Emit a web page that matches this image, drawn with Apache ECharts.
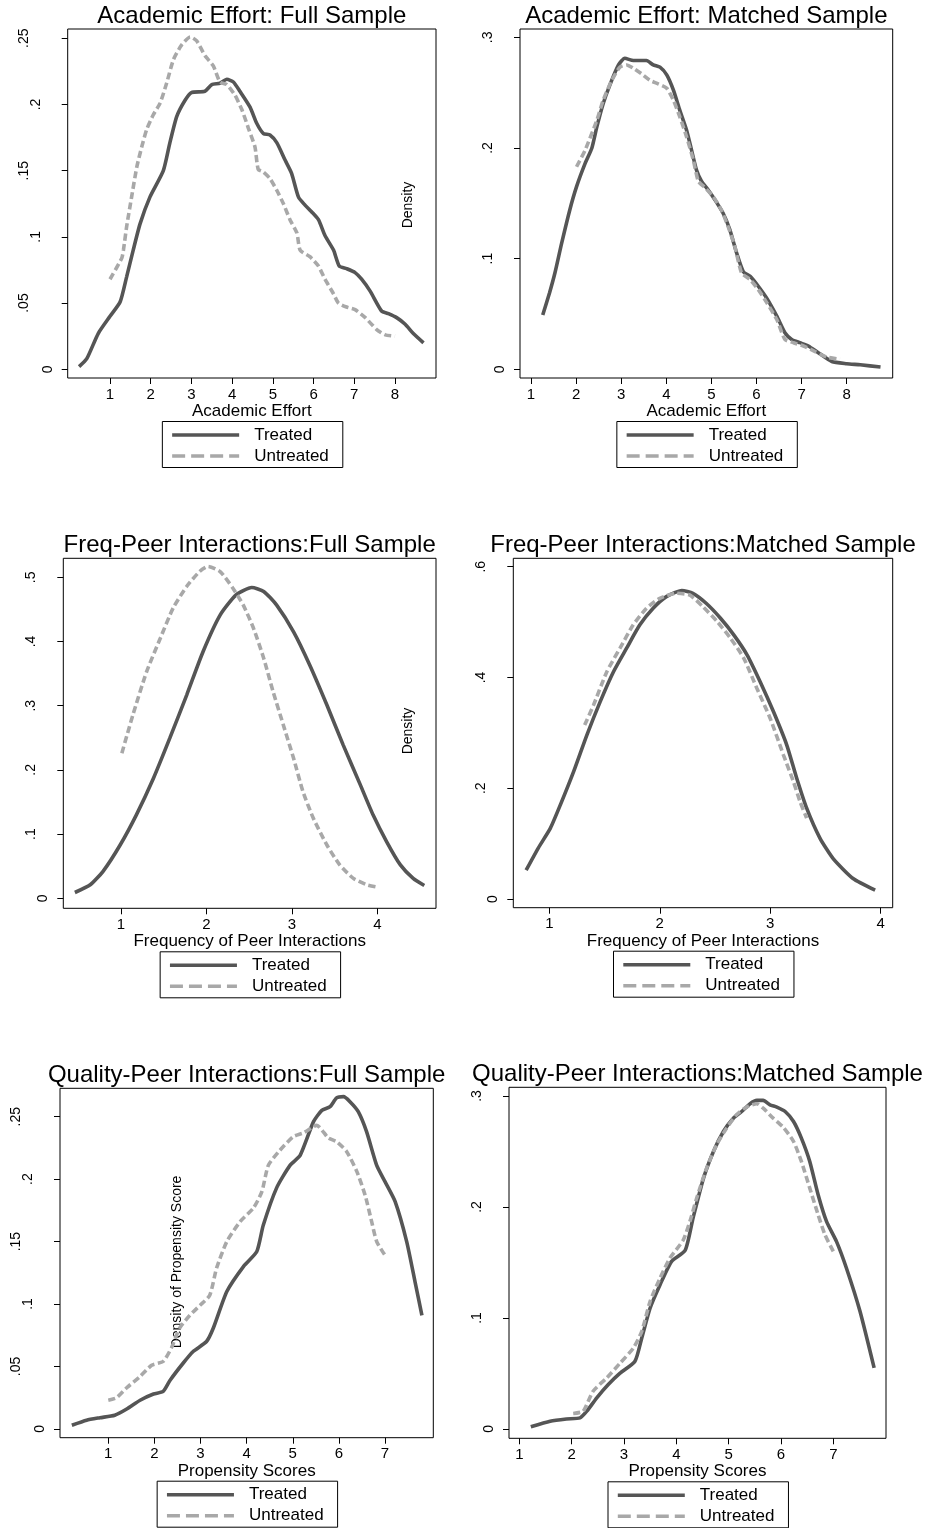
<!DOCTYPE html>
<html>
<head>
<meta charset="utf-8">
<title>Propensity score balance</title>
<script src="https://cdn.jsdelivr.net/npm/echarts@6.0.0/dist/echarts.min.js"></script>
<style>
  html, body { margin: 0; padding: 0; background: #fff; }
  #chart { width: 936px; height: 1528px; }
</style>
</head>
<body>
<div id="chart"></div>
<script>
// ---- data: [x, density] ----
const aeFullTreated = [[0.24,0.002],[0.43,0.008],[0.71,0.027],[1.0,0.040],[1.25,0.051],[1.41,0.070],[1.57,0.090],[1.74,0.110],[1.98,0.130],[2.31,0.150],[2.47,0.171],[2.64,0.191],[2.84,0.203],[3.0,0.209],[3.33,0.210],[3.5,0.215],[3.7,0.216],[3.87,0.219],[4.03,0.217],[4.19,0.210],[4.44,0.198],[4.6,0.186],[4.77,0.178],[4.93,0.177],[5.1,0.171],[5.3,0.158],[5.46,0.148],[5.63,0.130],[5.79,0.124],[5.95,0.119],[6.12,0.113],[6.28,0.101],[6.49,0.090],[6.63,0.078],[6.81,0.076],[7.02,0.073],[7.18,0.068],[7.39,0.059],[7.67,0.044],[7.84,0.042],[8.04,0.039],[8.25,0.034],[8.45,0.027],[8.70,0.020]];
const aeFullUntreated = [[1.0,0.068],[1.29,0.084],[1.33,0.090],[1.41,0.108],[1.53,0.130],[1.66,0.153],[1.78,0.168],[1.9,0.181],[2.06,0.192],[2.23,0.201],[2.39,0.216],[2.56,0.234],[2.76,0.245],[2.97,0.251],[3.13,0.248],[3.33,0.237],[3.54,0.229],[3.7,0.217],[3.87,0.215],[4.07,0.207],[4.24,0.196],[4.4,0.182],[4.56,0.168],[4.64,0.151],[4.77,0.149],[4.93,0.144],[5.1,0.135],[5.26,0.125],[5.42,0.113],[5.59,0.103],[5.67,0.090],[5.91,0.085],[6.12,0.078],[6.28,0.068],[6.49,0.057],[6.61,0.050],[6.81,0.047],[7.02,0.045],[7.27,0.039],[7.55,0.030],[7.76,0.026],[8.0,0.025]];
const aeMatchTreated = [[1.26,0.049],[1.41,0.069],[1.53,0.087],[1.68,0.114],[1.86,0.144],[2.01,0.165],[2.2,0.186],[2.35,0.200],[2.46,0.219],[2.6,0.240],[2.75,0.257],[2.94,0.275],[3.08,0.281],[3.27,0.279],[3.56,0.279],[3.71,0.275],[3.86,0.273],[4.01,0.266],[4.16,0.252],[4.3,0.234],[4.45,0.216],[4.56,0.198],[4.67,0.180],[4.78,0.170],[4.93,0.162],[5.08,0.153],[5.26,0.141],[5.41,0.126],[5.56,0.105],[5.71,0.088],[5.86,0.084],[6.04,0.075],[6.23,0.064],[6.45,0.048],[6.63,0.033],[6.78,0.027],[6.96,0.024],[7.15,0.021],[7.37,0.015],[7.67,0.007],[8.0,0.005],[8.3,0.004],[8.75,0.002]];
const aeMatchUntreated = [[2.01,0.183],[2.2,0.198],[2.46,0.225],[2.6,0.243],[2.79,0.261],[2.97,0.273],[3.12,0.275],[3.27,0.272],[3.45,0.267],[3.64,0.261],[3.82,0.258],[4.01,0.254],[4.16,0.243],[4.3,0.228],[4.45,0.210],[4.6,0.189],[4.71,0.170],[4.86,0.164],[5.04,0.156],[5.22,0.144],[5.37,0.129],[5.52,0.111],[5.67,0.087],[5.86,0.081],[6.04,0.072],[6.23,0.060],[6.45,0.045],[6.63,0.027],[6.82,0.024],[7.04,0.021],[7.3,0.016],[7.56,0.011],[7.85,0.009]];

const fpFullTreated = [[0.46,0.009],[0.64,0.021],[0.79,0.042],[0.99,0.083],[1.18,0.130],[1.38,0.187],[1.57,0.249],[1.77,0.317],[1.96,0.384],[2.16,0.441],[2.35,0.473],[2.53,0.484],[2.67,0.478],[2.82,0.457],[3.02,0.415],[3.21,0.363],[3.41,0.301],[3.6,0.239],[3.8,0.177],[3.95,0.130],[4.11,0.088],[4.27,0.052],[4.42,0.031],[4.55,0.020]];
const fpFullUntreated = [[1.01,0.226],[1.14,0.286],[1.3,0.353],[1.46,0.405],[1.61,0.452],[1.77,0.486],[1.92,0.509],[2.02,0.517],[2.16,0.509],[2.31,0.483],[2.43,0.457],[2.55,0.421],[2.67,0.374],[2.78,0.322],[2.9,0.270],[3.02,0.218],[3.13,0.166],[3.25,0.125],[3.41,0.083],[3.56,0.052],[3.72,0.031],[3.88,0.021],[3.98,0.018]];
const fpMatchTreated = [[0.79,0.052],[0.9,0.092],[1.01,0.128],[1.1,0.170],[1.22,0.230],[1.34,0.296],[1.46,0.356],[1.58,0.410],[1.7,0.453],[1.82,0.495],[1.94,0.525],[2.06,0.546],[2.2,0.557],[2.3,0.552],[2.42,0.534],[2.55,0.507],[2.67,0.477],[2.79,0.441],[2.91,0.392],[3.03,0.338],[3.15,0.278],[3.24,0.218],[3.33,0.164],[3.45,0.110],[3.57,0.073],[3.75,0.037],[3.95,0.016]];
const fpMatchUntreated = [[1.32,0.314],[1.4,0.350],[1.52,0.410],[1.64,0.453],[1.76,0.495],[1.88,0.525],[2.0,0.543],[2.15,0.552],[2.27,0.549],[2.39,0.528],[2.52,0.501],[2.64,0.471],[2.76,0.435],[2.88,0.380],[3.0,0.326],[3.12,0.260],[3.21,0.212],[3.27,0.176],[3.33,0.146]];

const qpFullTreated = [[0.21,0.003],[0.53,0.007],[0.82,0.009],[1.14,0.011],[1.4,0.016],[1.69,0.023],[1.98,0.028],[2.19,0.030],[2.34,0.039],[2.63,0.053],[2.84,0.062],[3.13,0.070],[3.28,0.081],[3.57,0.110],[3.93,0.130],[4.22,0.142],[4.36,0.163],[4.65,0.193],[4.94,0.211],[5.16,0.219],[5.45,0.246],[5.63,0.255],[5.81,0.258],[5.95,0.265],[6.1,0.266],[6.24,0.262],[6.42,0.254],[6.6,0.238],[6.82,0.211],[7.0,0.198],[7.22,0.182],[7.47,0.150],[7.65,0.118],[7.8,0.091]];
const qpFullUntreated = [[1.0,0.023],[1.18,0.025],[1.4,0.033],[1.69,0.042],[1.94,0.051],[2.19,0.054],[2.37,0.065],[2.55,0.081],[2.77,0.091],[2.99,0.099],[3.2,0.107],[3.35,0.129],[3.57,0.150],[3.86,0.166],[4.15,0.177],[4.33,0.190],[4.47,0.211],[4.72,0.223],[5.01,0.234],[5.23,0.237],[5.52,0.243],[5.77,0.233],[5.95,0.230],[6.17,0.222],[6.39,0.206],[6.57,0.187],[6.71,0.166],[6.82,0.150],[7.0,0.139]];
const qpMatchTreated = [[1.22,0.002],[1.59,0.007],[1.9,0.009],[2.16,0.010],[2.29,0.016],[2.48,0.028],[2.7,0.040],[2.92,0.050],[3.21,0.061],[3.34,0.082],[3.5,0.109],[3.69,0.130],[3.91,0.151],[4.17,0.161],[4.32,0.190],[4.52,0.226],[4.71,0.250],[4.9,0.268],[5.09,0.280],[5.25,0.286],[5.41,0.293],[5.54,0.296],[5.66,0.296],[5.79,0.292],[5.92,0.290],[6.08,0.286],[6.24,0.277],[6.39,0.262],[6.55,0.241],[6.71,0.211],[6.87,0.187],[7.06,0.169],[7.25,0.145],[7.51,0.106],[7.78,0.055]];
const qpMatchUntreated = [[2.03,0.014],[2.22,0.016],[2.41,0.034],[2.67,0.046],[2.92,0.059],[3.18,0.073],[3.34,0.088],[3.5,0.115],[3.69,0.136],[3.88,0.154],[4.13,0.170],[4.26,0.187],[4.39,0.208],[4.58,0.235],[4.77,0.256],[4.96,0.271],[5.15,0.283],[5.34,0.290],[5.54,0.293],[5.66,0.289],[5.85,0.280],[6.04,0.272],[6.24,0.259],[6.39,0.241],[6.55,0.217],[6.71,0.193],[6.84,0.175],[7.0,0.160]];

// ---- tick values and labels ----
const xTicks8 = [1, 2, 3, 4, 5, 6, 7, 8];
const xTicks4 = [1, 2, 3, 4];
const xTicks7 = [1, 2, 3, 4, 5, 6, 7];
const yTicks25 = [0, 0.05, 0.1, 0.15, 0.2, 0.25];
const yLabels25 = ['0', '.05', '.1', '.15', '.2', '.25'];
const yTicks3 = [0, 0.1, 0.2, 0.3];
const yLabels3 = ['0', '.1', '.2', '.3'];
const yTicks5 = [0, 0.1, 0.2, 0.3, 0.4, 0.5];
const yLabels5 = ['0', '.1', '.2', '.3', '.4', '.5'];
const yTicks6 = [0, 0.2, 0.4, 0.6];
const yLabels6 = ['0', '.2', '.4', '.6'];

const seriesNames = ['Treated', 'Untreated'];

// ---- panel layout (pixel boxes of the plot regions, axis ranges) ----
const panels = [
  { title: 'Academic Effort: Full Sample', xName: 'Academic Effort',
    lines: [aeFullTreated, aeFullUntreated], xTicks: xTicks8, yTicks: yTicks25, yLabels: yLabels25,
    box: [67.7, 29, 436, 378], xr: [-0.039, 9.007], yr: [-0.0066, 0.257] },
  { title: 'Academic Effort: Matched Sample', xName: 'Academic Effort',
    lines: [aeMatchTreated, aeMatchUntreated], xTicks: xTicks8, yTicks: yTicks3, yLabels: yLabels3,
    box: [520, 29, 892.7, 378], xr: [0.756, 9.02], yr: [-0.0079, 0.3075] },
  { title: 'Freq-Peer Interactions:Full Sample', xName: 'Frequency of Peer Interactions',
    lines: [fpFullTreated, fpFullUntreated], xTicks: xTicks4, yTicks: yTicks5, yLabels: yLabels5,
    box: [63.3, 558.3, 436, 908.3], xr: [0.3246, 4.687], yr: [-0.0156, 0.5296] },
  { title: 'Freq-Peer Interactions:Matched Sample', xName: 'Frequency of Peer Interactions',
    lines: [fpMatchTreated, fpMatchUntreated], xTicks: xTicks4, yTicks: yTicks6, yLabels: yLabels6,
    box: [513.3, 558.3, 892.7, 907.7], xr: [0.674, 4.109], yr: [-0.0157, 0.6152] },
  { title: 'Quality-Peer Interactions:Full Sample', xName: 'Propensity Scores',
    lines: [qpFullTreated, qpFullUntreated], xTicks: xTicks7, yTicks: yTicks25, yLabels: yLabels25,
    box: [60, 1088.3, 433.3, 1437.7], xr: [-0.047, 8.047], yr: [-0.0070, 0.2727] },
  { title: 'Quality-Peer Interactions:Matched Sample', xName: 'Propensity Scores',
    lines: [qpMatchTreated, qpMatchUntreated], xTicks: xTicks7, yTicks: yTicks3, yLabels: yLabels3,
    box: [509, 1087.3, 886, 1438.3], xr: [0.803, 8.007], yr: [-0.0084, 0.3078] }
];

// stray y titles that sit inside the left-hand plots
const notes = [
  { text: 'Density', x: 408, y: 205 },
  { text: 'Density', x: 408, y: 731 },
  { text: 'Density of Propensity Score', x: 177, y: 1262 }
];

const FONT = "'Liberation Sans', Arial, Helvetica, sans-serif";
const DARK = '#555555';
const LIGHT = '#a8a8a8';
const LEGEND_W = 179;

const grids = [], xAxes = [], yAxes = [], series = [], legends = [], graphics = [];

panels.forEach((p, i) => {
  const [x0, y0, x1, y1] = p.box;
  const cx = (x0 + x1) / 2;
  grids.push({ left: x0, top: y0, width: x1 - x0, height: y1 - y0,
    show: true, borderColor: '#000', borderWidth: 1, backgroundColor: 'transparent' });

  xAxes.push({
    gridIndex: i, type: 'value', min: p.xr[0], max: p.xr[1],
    name: p.xName, nameLocation: 'middle', nameGap: 20,
    nameTextStyle: { fontSize: 17, color: '#000', fontFamily: FONT },
    axisLine: { show: false, onZero: false },
    axisTick: { show: true, inside: false, length: 6, customValues: p.xTicks, lineStyle: { color: '#000', width: 1 } },
    axisLabel: { customValues: p.xTicks, margin: 9, fontSize: 15, color: '#000', fontFamily: FONT },
    splitLine: { show: false }
  });

  const labelOf = v => {
    const k = p.yTicks.findIndex(t => Math.abs(t - v) < 1e-9);
    return k >= 0 ? p.yLabels[k] : '';
  };
  const rs = pad => ({ fontSize: 14, color: '#000', fontFamily: FONT, padding: [0, 0, pad, 0] });
  yAxes.push({
    gridIndex: i, type: 'value', min: p.yr[0], max: p.yr[1],
    axisLine: { show: false, onZero: false },
    axisTick: { show: true, inside: false, length: 6, customValues: p.yTicks, lineStyle: { color: '#000', width: 1 } },
    axisLabel: {
      customValues: p.yTicks, rotate: 90, margin: 13,
      formatter: v => { const s = labelOf(v); return '{p' + s.length + '|' + s + '}'; },
      rich: { p1: rs(0), p2: rs(12), p3: rs(24) }
    },
    splitLine: { show: false }
  });

  series.push({
    name: seriesNames[0], type: 'line', xAxisIndex: i, yAxisIndex: i,
    data: p.lines[0], symbol: 'none', smooth: 0.2, silent: true,
    lineStyle: { color: DARK, width: 3.6 }, itemStyle: { color: DARK }
  });
  series.push({
    name: seriesNames[1], type: 'line', xAxisIndex: i, yAxisIndex: i,
    data: p.lines[1], symbol: 'none', smooth: 0.2, silent: true,
    lineStyle: { color: LIGHT, width: 3.6, type: [7, 3.5] }, itemStyle: { color: LIGHT }
  });

  legends.push({
    orient: 'vertical', left: cx - LEGEND_W / 2, top: y1 + 43.5, height: 120,
    padding: [5, 14, 3, 8], itemWidth: 67, itemHeight: 14, itemGap: 4,
    borderColor: '#000', borderWidth: 1, selectedMode: false,
    itemStyle: { opacity: 0 },
    textStyle: { fontSize: 17, color: '#000', fontFamily: FONT, padding: [0, 0, 0, 10] },
    data: [
      { name: seriesNames[0], lineStyle: { color: DARK, width: 3.6, type: 'solid' } },
      { name: seriesNames[1], lineStyle: { color: LIGHT, width: 3.6, type: [13, 6] } }
    ]
  });

  graphics.push({
    type: 'text', x: cx, y: y0 - 13,
    style: { text: p.title, fontSize: 24, fontFamily: FONT, fill: '#000', align: 'center', verticalAlign: 'middle' }
  });
});

notes.forEach(n => {
  graphics.push({
    type: 'text', x: n.x, y: n.y, rotation: Math.PI / 2,
    style: { text: n.text, fontSize: 14, fontFamily: FONT, fill: '#000', align: 'center', verticalAlign: 'middle' }
  });
});

const myChart = echarts.init(document.getElementById('chart'));
myChart.setOption({
  backgroundColor: '#fff',
  animation: false,
  textStyle: { fontFamily: FONT },
  grid: grids,
  xAxis: xAxes,
  yAxis: yAxes,
  legend: legends,
  series: series,
  graphic: graphics
});
</script>
</body>
</html>
